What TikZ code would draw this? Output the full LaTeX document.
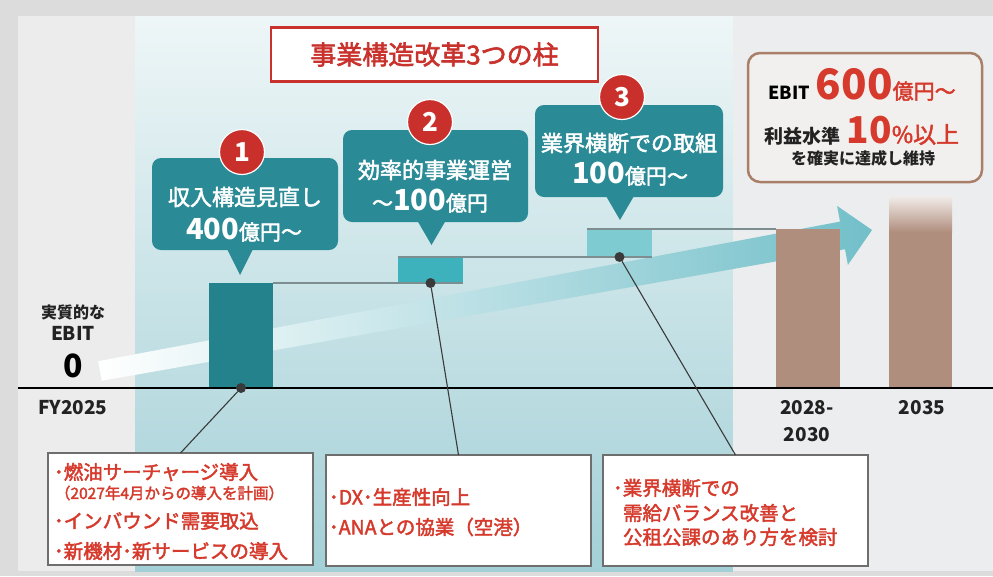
\documentclass[tikz,border=0pt]{standalone}
\usepackage{fontspec}
\setmainfont{Noto Sans CJK JP}
\newfontfamily\med[FakeBold=2.2]{Noto Sans CJK JP}
\usetikzlibrary{calc}
\newcommand{\fsz}[1]{\fontsize{#1}{#1}\selectfont}
\newcommand{\mdf}{\med\mdseries}
\definecolor{framec}{HTML}{DCDCDC}
\definecolor{leftp}{HTML}{ECECEC}
\definecolor{rightp}{HTML}{ECEDEE}
\definecolor{tealtop}{HTML}{EEF6F7}
\definecolor{tealbot}{HTML}{A3D0D7}
\definecolor{arrowteal}{HTML}{72BFC9}
\definecolor{arrowmid}{HTML}{D2ECEF}
\definecolor{calteal}{HTML}{2A8A95}
\definecolor{numred}{HTML}{C9302C}
\definecolor{titred}{HTML}{C8312C}
\definecolor{tred}{HTML}{D63A2C}
\definecolor{bar1c}{HTML}{24828D}
\definecolor{bar2c}{HTML}{3DB1BC}
\definecolor{bar3c}{HTML}{7ECBD1}
\definecolor{brownc}{HTML}{B08E7E}
\definecolor{browntop}{HTML}{F2EDEA}
\definecolor{tgtborder}{HTML}{A97F69}
\definecolor{tgtfill}{HTML}{F1F0EF}
\definecolor{boxgray}{HTML}{6E6E6E}
\definecolor{stepgray}{HTML}{7D8E90}
\definecolor{dotgray}{HTML}{3A3A3A}
\definecolor{darktxt}{HTML}{222222}
\begin{document}
\begin{tikzpicture}[x=1pt,y=-1pt,
  every node/.style={inner sep=0pt, outer sep=0pt},
  bar/.style={rectangle, draw=none, minimum width=64},
  callout/.style={rectangle, rounded corners=9pt, fill=calteal},
  numc/.style={circle, fill=numred, draw=white, line width=1.2pt, minimum size=45, text=white, font=\fsz{26}\bfseries},
  stepline/.style={draw=stepgray, line width=1.1pt},
  dotc/.style={circle, fill=dotgray, minimum size=10},
  leader/.style={draw=dotgray, line width=1.1pt},
  notebox/.style={rectangle, draw=boxgray, line width=1.3pt, fill=white, anchor=north west},
  redtxt/.style={text=tred, anchor=west},
  caltxt/.style={text=white},
  axislbl/.style={text=darktxt, font=\fsz{19}\bfseries},
]
\fill[framec] (0,0) rectangle (993,576);
\useasboundingbox (0,0) rectangle (993,576);
% panels
\fill[leftp] (18,16) rectangle (135,571);
\shade[top color=tealtop, bottom color=tealbot] (135,16) rectangle (733,571);
\fill[rightp] (733,16) rectangle (993,571);

% big arrow
\shade[left color=white, middle color=arrowmid, right color=arrowteal]
  (98.2,361.2) -- (840.0,221.6) -- (837.1,205.9) -- (872,230) -- (847.9,264.9) -- (845.0,249.2) -- (101.8,380.8) -- cycle;

% title
\node[draw=titred, line width=2.5pt, fill=white, minimum width=327, minimum height=54,
      text=titred, font=\fsz{26}\mdf] (title) at (434.5,54.5) {事業構造改革3つの柱};

% bars
\node[bar, fill=bar1c, minimum height=105, anchor=south west] (b1) at (209,388) {};
\node[bar, fill=bar2c, minimum height=26, minimum width=65, anchor=south west] (b2) at (398,283) {};
\node[bar, fill=bar3c, minimum height=28, minimum width=65, anchor=south west] (b3) at (587,257) {};
\node[bar, fill=brownc, minimum height=159, anchor=south west] (b4) at (776,388) {};
\node[bar, fill=brownc, minimum height=192, minimum width=63, anchor=south west] (b5) at (889,388) {};
\shade[top color=browntop, bottom color=brownc] (b5.north west) rectangle ($(b5.north east)+(0,36)$);

% axis
\coordinate (axL) at (18,388);
\coordinate (axR) at (993,388);
\draw[line width=2.6pt, black] (axL) -- (axR);

% step lines
\draw[stepline] (b1.north east) -- (b2.south east);
\draw[stepline] (b2.north west) -- (b3.south east);
\draw[stepline] (b3.north west) -- (b4.north west);

% callouts
\node[callout, minimum width=186, minimum height=92] (c1) at (245,204) {};
\fill[calteal] ($(c1.south)+(-18,-1)$) -- ($(c1.south)+(-5,25)$) -- ($(c1.south)+(8,-1)$) -- cycle;
\node[callout, minimum width=185, minimum height=92] (c2) at (435.5,176) {};
\fill[calteal] ($(c2.south)+(-18,-1)$) -- ($(c2.south)+(-4,23)$) -- ($(c2.south)+(10,-1)$) -- cycle;
\node[callout, minimum width=188, minimum height=92] (c3) at (629,151) {};
\fill[calteal] ($(c3.south)+(-23,-1)$) -- ($(c3.south)+(-9,23)$) -- ($(c3.south)+(5,-1)$) -- cycle;

\node[caltxt, font=\fsz{22}\mdf] (c1a) at (245,197) {収入構造見直し};
\node[caltxt] (c1b) at (244,230) {\fsz{29}\bfseries 400\fsz{21}\mdf 億円～};
\node[caltxt, font=\fsz{22}\mdf] (c2a) at (435,170) {効率的事業運営};
\node[caltxt] (c2b) at (430,201) {\fsz{21}\mdf ～\fsz{29}\normalfont\bfseries 100\fsz{21}\mdf 億円};
\node[caltxt, font=\fsz{22}\mdf] (c3a) at (629,143) {業界横断での取組};
\node[caltxt] (c3b) at (630,174) {\fsz{29}\bfseries 100\fsz{21}\mdf 億円～};

\node[numc] (n1) at (242,152) {1};
\node[numc] (n2) at (430,122) {2};
\node[numc] (n3) at (622,97) {3};

% note boxes
\node[notebox, minimum width=265, minimum height=112] (nb1) at (48,453) {};
\node[notebox, minimum width=265, minimum height=111] (nb2) at (326,455) {};
\node[notebox, minimum width=265, minimum height=111] (nb3) at (603,455) {};

% dots and leaders
\node[dotc] (d1) at (b1.south) {};
\node[dotc] (d2) at (b2.south) {};
\node[dotc] (d3) at (b3.south) {};
\draw[leader] (d1) -- (nb1.north);
\draw[leader] (d2) -- (nb2.north);
\draw[leader] (d3) -- (nb3.north);

\node[redtxt, font=\fsz{19.5}\mdf] (t11) at (54,472) {･燃油サーチャージ導入};
\node[redtxt, font=\fsz{15.5}\mdf] (t12) at (55,493) {（2027年4月からの導入を計画）};
\node[redtxt, font=\fsz{19.5}\mdf] (t13) at (54,521) {･インバウンド需要取込};
\node[redtxt, font=\fsz{19.5}\mdf] (t14) at (54,551) {･新機材･新サービスの導入};

\node[redtxt, font=\fsz{19.5}\mdf] (t21) at (329,497) {･DX･生産性向上};
\node[redtxt, font=\fsz{19.5}\mdf] (t22) at (329,527) {･ANAとの協業（空港）};

\node[redtxt, font=\fsz{19.5}\mdf] (t31) at (613,488) {･業界横断での};
\node[redtxt, font=\fsz{19.5}\mdf] (t32) at (623,513) {需給バランス改善と};
\node[redtxt, font=\fsz{19.5}\mdf] (t33) at (623,537) {公租公課のあり方を検討};

% target box
\node[draw=tgtborder, line width=2.5pt, rounded corners=12pt, fill=tgtfill,
      minimum width=234, minimum height=129] (tgt) at (865,117.5) {};
\node[anchor=base, text=black] (tg1) at (862,99)
  {\fsz{18}\bfseries EBIT\hspace{6pt}{\color{tred}\fsz{42}600\fsz{21}\mdf 億円～}};
\node[anchor=base, text=darktxt] (tg2) at (862,143)
  {\fsz{19}\bfseries 利益水準\hspace{6pt}{\color{tred}\fsz{37}10\fsz{23}\mdf \%以上}};
\node[anchor=base, text=darktxt, font=\fsz{16}\bfseries] (tg3) at (863,164) {を確実に達成し維持};

% axis labels
\node[text=darktxt, font=\fsz{16}\bfseries] (l1) at (73,312) {実質的な};
\node[axislbl] (l2) at (73,333) {EBIT};
\node[text=black, font=\fsz{32}\bfseries] (l3) at (73,366) {0};
\node[axislbl] (l4) at (73,408) {FY2025};
\node[axislbl] (y1) at (807,408) {2028-};
\node[axislbl] (y2) at (807,435) {2030};
\node[axislbl] (y3) at (922,408) {2035};
\end{tikzpicture}
\end{document}
